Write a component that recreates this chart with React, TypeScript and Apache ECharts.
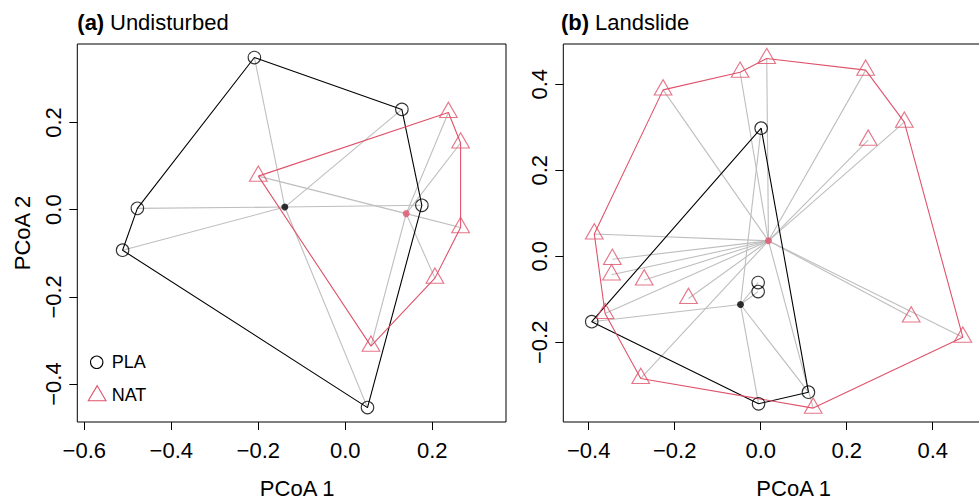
import React, { useEffect, useRef } from 'react';
import * as echarts from 'echarts';

// ---- tick labels ----
const xTicksA = [-0.6, -0.4, -0.2, 0.0, 0.2];
const yTicksA = [-0.4, -0.2, 0.0, 0.2];
const xTicksB = [-0.4, -0.2, 0.0, 0.2, 0.4];
const yTicksB = [-0.2, 0.0, 0.2, 0.4];

// ---- panel (a) Undisturbed ----
const plaA: number[][] = [
  [-0.209, 0.349], [0.130, 0.230], [0.176, 0.010], [0.051, -0.454], [-0.512, -0.093], [-0.478, 0.003],
];
const natA: number[][] = [
  [-0.200, 0.077], [0.237, 0.223], [0.265, 0.153], [0.265, -0.041], [0.206, -0.157], [0.059, -0.313],
];
const plaCentroidA = [-0.139, 0.006];
const natCentroidA = [0.140, -0.009];
const plaHullA = [0, 1, 2, 3, 4, 5];
const natHullA = [0, 1, 2, 3, 4, 5];

// ---- panel (b) Landslide ----
const plaB: number[][] = [
  [0.001, 0.298], [-0.393, -0.152], [-0.006, -0.061], [-0.006, -0.082], [-0.005, -0.343], [0.111, -0.316],
];
const natB: number[][] = [
  [-0.227, 0.387], [-0.048, 0.428], [0.014, 0.460], [0.244, 0.433], [0.334, 0.312], [0.250, 0.270],
  [-0.387, 0.052], [-0.345, -0.007], [-0.347, -0.043], [-0.271, -0.055], [-0.168, -0.098], [-0.362, -0.133],
  [-0.279, -0.284], [0.122, -0.353], [0.350, -0.141], [0.470, -0.188],
];
const plaCentroidB = [-0.047, -0.112];
const natCentroidB = [0.018, 0.036];
const plaHullB = [0, 5, 4, 1];
const natHullB = [0, 1, 2, 3, 4, 15, 13, 12, 11, 6];

const RED = '#DF536B';
const GREY = '#BEBEBE';
const FONT = '"Liberation Sans", Arial, Helvetica, sans-serif';

function fmt(v: number): string {
  const s = Math.abs(v).toFixed(1);
  return v < -1e-9 ? '\u2212' + s : s;
}

function hullLine(points: number[][], idx: number[]) {
  const d = idx.map((i) => points[i]);
  d.push(points[idx[0]]);
  return d;
}

function spokes(points: number[][], c: number[]) {
  return points.map((p) => ({ coords: [p, c] }));
}

function panelSeries(k: number, pla: number[][], nat: number[][], plaC: number[], natC: number[], plaHull: number[], natHull: number[]) {
  return [
    {
      type: 'lines', coordinateSystem: 'cartesian2d', xAxisIndex: k, yAxisIndex: k,
      data: [...spokes(pla, plaC), ...spokes(nat, natC)],
      lineStyle: { color: GREY, width: 1.1, opacity: 1, curveness: 0 }, z: 1, silent: true,
    },
    {
      type: 'line', name: 'PLA hull', xAxisIndex: k, yAxisIndex: k, data: hullLine(pla, plaHull),
      symbol: 'none', showSymbol: false, lineStyle: { color: '#000', width: 1.1 }, z: 2, silent: true,
    },
    {
      type: 'line', name: 'NAT hull', xAxisIndex: k, yAxisIndex: k, data: hullLine(nat, natHull),
      symbol: 'none', showSymbol: false, lineStyle: { color: RED, width: 1.1 }, z: 2, silent: true,
    },
    {
      type: 'scatter', name: 'PLA', xAxisIndex: k, yAxisIndex: k, data: pla, symbol: 'circle', symbolSize: 12.5,
      itemStyle: { color: 'rgba(0,0,0,0)', borderColor: '#000', borderWidth: 1.1 }, z: 3, silent: true,
    },
    {
      type: 'scatter', name: 'NAT', xAxisIndex: k, yAxisIndex: k, data: nat, symbol: 'triangle',
      symbolSize: [17.7, 15.3], symbolOffset: [0, -2.55],
      itemStyle: { color: 'rgba(0,0,0,0)', borderColor: RED, borderWidth: 1.1 }, z: 3, silent: true,
    },
    {
      type: 'scatter', name: 'PLA centroid', xAxisIndex: k, yAxisIndex: k, data: [plaC], symbol: 'circle', symbolSize: 7,
      itemStyle: { color: '#000' }, z: 4, silent: true,
    },
    {
      type: 'scatter', name: 'NAT centroid', xAxisIndex: k, yAxisIndex: k, data: [natC], symbol: 'circle', symbolSize: 7,
      itemStyle: { color: RED }, z: 4, silent: true,
    },
  ];
}

function xAxis(gridIndex: number, min: number, max: number, ticks: number[], namePad: number) {
  return {
    type: 'value', gridIndex, min, max,
    axisLine: { show: false, onZero: false },
    splitLine: { show: false },
    axisTick: { show: true, customValues: ticks, length: 8, lineStyle: { color: '#000', width: 1 } },
    axisLabel: { customValues: ticks, formatter: fmt, fontSize: 22, fontFamily: FONT, color: '#000', margin: 17 },
    name: 'PCoA 1', nameLocation: 'middle', nameGap: 55,
    nameTextStyle: { fontSize: 22, fontFamily: FONT, color: '#000', padding: [0, 0, 0, namePad] },
  };
}

function yAxis(gridIndex: number, min: number, max: number, ticks: number[], name: string) {
  return {
    type: 'value', gridIndex, min, max,
    axisLine: { show: false, onZero: false },
    splitLine: { show: false },
    axisTick: { show: true, customValues: ticks, length: 8, lineStyle: { color: '#000', width: 1 } },
    axisLabel: { customValues: ticks, formatter: fmt, fontSize: 22, fontFamily: FONT, color: '#000', margin: 13, rotate: 90 },
    name, nameLocation: 'middle', nameGap: 44, nameRotate: 90,
    nameTextStyle: { fontSize: 22, fontFamily: FONT, color: '#000' },
  };
}

function txt(x: number, y: number, text: string, size: number, bold: boolean, fill = '#000') {
  return {
    type: 'text', x, y, silent: true,
    style: {
      text, fill, fontSize: size, fontWeight: bold ? 'bold' : 'normal', fontFamily: FONT,
      align: 'left', textAlign: 'left', verticalAlign: 'middle', textVerticalAlign: 'middle',
    },
  };
}

export default function App() {
  const ref = useRef<HTMLDivElement>(null);
  useEffect(() => {
    if (!ref.current) return;
    const chart = echarts.init(ref.current, undefined, { renderer: 'svg' });
    const gridCommon = {
      show: true, borderColor: '#000', borderWidth: 1, backgroundColor: 'transparent',
      containLabel: false, outerBoundsMode: 'none',
    };
    const option: any = {
      animation: false,
      textStyle: { fontFamily: FONT },
      grid: [
        { ...gridCommon, left: 77.3, top: 44, width: 428.7, height: 378 },
        { ...gridCommon, left: 563.3, top: 44, width: 460.7, height: 378 },
      ],
      xAxis: [
        xAxis(0, -0.6161, 0.3694, xTicksA, 11),
        xAxis(1, -0.4591, 0.6123, xTicksB, 0),
      ],
      yAxis: [
        yAxis(0, -0.487, 0.380, yTicksA, 'PCoA 2'),
        yAxis(1, -0.3853, 0.4937, yTicksB, ''),
      ],
      series: [
        ...panelSeries(0, plaA, natA, plaCentroidA, natCentroidA, plaHullA, natHullA),
        ...panelSeries(1, plaB, natB, plaCentroidB, natCentroidB, plaHullB, natHullB),
      ],
      graphic: [
        txt(77.3, 22.8, '(a)', 22, true),
        txt(110, 22.8, 'Undisturbed', 22, false),
        txt(561, 22.8, '(b)', 22, true),
        txt(595, 22.8, 'Landslide', 22, false),
        {
          type: 'circle', silent: true, shape: { cx: 96.7, cy: 362.3, r: 6.2 },
          style: { fill: 'none', stroke: '#000', lineWidth: 1.1 },
        },
        {
          type: 'polygon', silent: true,
          shape: { points: [[97.2, 385.7], [106, 400.7], [88.3, 400.7]] },
          style: { fill: 'none', stroke: RED, lineWidth: 1.1 },
        },
        txt(111.7, 362.2, 'PLA', 18, false),
        txt(111.7, 394.8, 'NAT', 18, false),
      ],
    };
    chart.setOption(option);
    return () => chart.dispose();
  }, []);
  return <div ref={ref} style={{ position: 'absolute', left: 0, top: 0, width: 979, height: 500 }} />;
}
